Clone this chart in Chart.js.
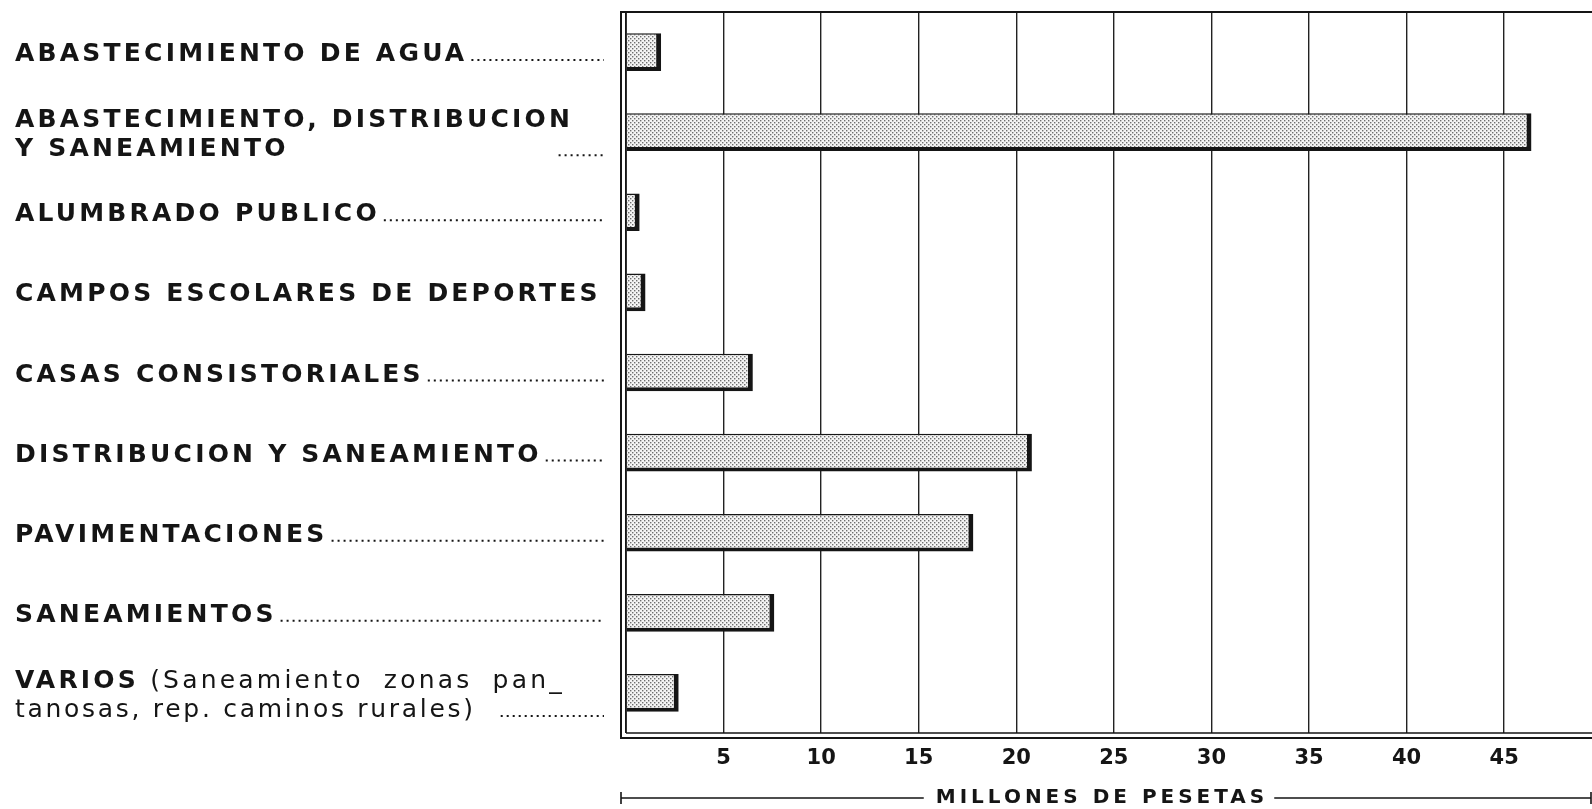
<!DOCTYPE html>
<html>
<head>
<meta charset="utf-8">
<script src="https://cdn.jsdelivr.net/npm/chart.js@4.4.1/dist/chart.umd.min.js"></script>
<style>
  html, body { margin: 0; background: #fff; }
  #wrap { width: 1592px; height: 809px; position: relative; }
</style>
</head>
<body>
<div id="wrap"><canvas id="chart"></canvas></div>
<script>
// data (millones de pesetas)
const categories = [
  'ABASTECIMIENTO DE AGUA',
  'ABASTECIMIENTO, DISTRIBUCION Y SANEAMIENTO',
  'ALUMBRADO PUBLICO',
  'CAMPOS ESCOLARES DE DEPORTES',
  'CASAS CONSISTORIALES',
  'DISTRIBUCION Y SANEAMIENTO',
  'PAVIMENTACIONES',
  'SANEAMIENTOS',
  'VARIOS (Saneamiento zonas pantanosas, rep. caminos rurales)'
];
const values = [1.8, 46.4, 0.7, 1.0, 6.5, 20.8, 17.8, 7.6, 2.7];
const tickValues = [5, 10, 15, 20, 25, 30, 35, 40, 45];
const axisTitle = 'MILLONES DE PESETAS';

// how each category label is printed: lines of [text, bold, extra word gap]
const labelLines = [
  [[['ABASTECIMIENTO DE AGUA', true]]],
  [[['ABASTECIMIENTO, DISTRIBUCION', true]], [['Y SANEAMIENTO', true]]],
  [[['ALUMBRADO PUBLICO', true]]],
  [[['CAMPOS ESCOLARES DE DEPORTES', true]]],
  [[['CASAS CONSISTORIALES', true]]],
  [[['DISTRIBUCION Y SANEAMIENTO', true]]],
  [[['PAVIMENTACIONES', true]]],
  [[['SANEAMIENTOS', true]]],
  [[['VARIOS', true], [' (Saneamiento zonas pan_', false, 9]], [['tanosas, rep. caminos rurales)', false]]]
];
const leaderGap = [4, 270, 4, 4, 4, 4, 4, 4, 25];

const FONT = '"DejaVu Sans", sans-serif';
const INK = '#151515';

function stipple() {
  const c = document.createElement('canvas');
  c.width = 4; c.height = 4;
  const g = c.getContext('2d');
  g.fillStyle = '#f4f4f4';
  g.fillRect(0, 0, 4, 4);
  g.fillStyle = '#6e6e6e';
  g.fillRect(0, 0, 1.4, 1.4);
  g.fillRect(2, 2, 1.4, 1.4);
  return g.createPattern(c, 'repeat');
}

const framePlugin = {
  id: 'frame',
  afterDraw(chart) {
    const { ctx, chartArea: a } = chart;
    const yScale = chart.scales.y;
    ctx.save();
    ctx.strokeStyle = INK;
    ctx.lineCap = 'butt';

    // top edge
    ctx.lineWidth = 2;
    ctx.beginPath(); ctx.moveTo(a.left - 6, a.top); ctx.lineTo(a.right + 2, a.top); ctx.stroke();
    // double left edge
    ctx.beginPath(); ctx.moveTo(a.left - 5, a.top - 1); ctx.lineTo(a.left - 5, a.bottom + 6); ctx.stroke();
    ctx.lineWidth = 1.6;
    ctx.beginPath(); ctx.moveTo(a.left, a.top); ctx.lineTo(a.left, a.bottom); ctx.stroke();
    // double bottom edge
    ctx.lineWidth = 1.4;
    ctx.beginPath(); ctx.moveTo(a.left, a.bottom); ctx.lineTo(a.right + 2, a.bottom); ctx.stroke();
    ctx.lineWidth = 2.2;
    ctx.beginPath(); ctx.moveTo(a.left - 6, a.bottom + 5); ctx.lineTo(a.right + 2, a.bottom + 5); ctx.stroke();

    // category labels with dotted leaders
    const leaderEnd = a.left - 22;
    ctx.fillStyle = INK;
    ctx.textBaseline = 'alphabetic';
    labelLines.forEach((lines, i) => {
      const cy = yScale.getPixelForValue(i);
      const offsets = lines.length === 1 ? [0] : [-14, 15];
      lines.forEach((parts, li) => {
        const base = cy + offsets[li] + 9;
        let x = 15;
        parts.forEach(([txt, bold, gap]) => {
          ctx.font = (bold ? 'bold 25px ' : '25px ') + FONT;
          ctx.letterSpacing = bold ? '3.2px' : (gap ? '3.2px' : '2.7px');
          if (gap) {
            // loosely justified line: draw word by word
            txt.split(' ').forEach((word, wi) => {
              if (wi > 0) x += ctx.measureText(' ').width + (wi > 1 ? gap : 0);
              ctx.fillText(word, x, base);
              x += ctx.measureText(word).width;
            });
          } else {
            ctx.fillText(txt, x, base);
            x += ctx.measureText(txt).width;
          }
        });
        if (li === lines.length - 1) {
          const start = x + leaderGap[i];
          if (start < leaderEnd - 6) {
            ctx.save();
            ctx.lineWidth = 2;
            ctx.setLineDash([2, 4]);
            ctx.beginPath(); ctx.moveTo(start, base - 1); ctx.lineTo(leaderEnd, base - 1); ctx.stroke();
            ctx.restore();
          }
        }
      });
    });

    // axis title with bracket line
    const ty = chart.height - 11;
    ctx.font = 'bold 20px ' + FONT;
    ctx.letterSpacing = '4px';
    ctx.textBaseline = 'middle';
    ctx.textAlign = 'center';
    const x0 = a.left - 5, x1 = chart.width - 1;
    const cx = (x0 + x1) / 2 - 6;
    const w = ctx.measureText(axisTitle).width;
    ctx.fillText(axisTitle, cx + 2, ty);
    ctx.lineWidth = 1.6;
    ctx.beginPath();
    ctx.moveTo(x0, ty); ctx.lineTo(cx - w / 2 - 10, ty);
    ctx.moveTo(cx + w / 2 + 8, ty); ctx.lineTo(x1, ty);
    ctx.moveTo(x0, ty - 6); ctx.lineTo(x0, ty + 6);
    ctx.moveTo(x1, ty - 6); ctx.lineTo(x1, ty + 6);
    ctx.stroke();
    ctx.restore();
  }
};

new Chart(document.getElementById('chart'), {
  type: 'bar',
  data: {
    labels: categories,
    datasets: [{
      data: values,
      backgroundColor: stipple(),
      borderColor: INK,
      borderWidth: { top: 1.5, right: 5, bottom: 4, left: 0 },
      borderSkipped: 'start',
      barPercentage: 0.47,
      categoryPercentage: 1
    }]
  },
  options: {
    indexAxis: 'y',
    responsive: true,
    maintainAspectRatio: false,
    animation: false,
    layout: { padding: { left: 626, top: 12, right: 2, bottom: 0 } },
    plugins: { legend: { display: false }, tooltip: { enabled: false } },
    scales: {
      x: {
        min: 0,
        max: 49.4,
        afterBuildTicks: s => { s.ticks = [0, ...tickValues].map(v => ({ value: v })); },
        ticks: {
          callback: v => (tickValues.includes(v) ? String(v) : ''),
          font: { family: FONT, size: 21, weight: 'bold' },
          color: INK,
          padding: 13,
          maxRotation: 0
        },
        grid: { color: '#222', lineWidth: 1.4, drawTicks: false },
        border: { display: false },
        afterFit: s => { s.height = 76; }
      },
      y: { display: false, offset: true }
    }
  },
  plugins: [framePlugin]
});
</script>
</body>
</html>
